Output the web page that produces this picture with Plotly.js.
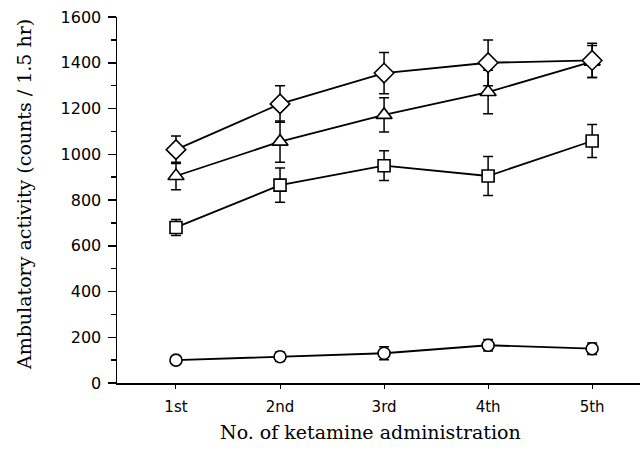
<!DOCTYPE html>
<html>
<head>
<meta charset="utf-8">
<script src="https://cdn.plot.ly/plotly-3.0.1.min.js"></script>
<style>html,body{margin:0;padding:0;background:#fff}#chart{width:642px;height:458px}</style>
</head>
<body>
<div id="chart"></div>
<script>
var xPos = [1, 2, 3, 4, 5];
var xLabels = ['1st', '2nd', '3rd', '4th', '5th'];
var yTicks = [0, 200, 400, 600, 800, 1000, 1200, 1400, 1600];
var xTitle = 'No. of ketamine administration';
var yTitle = 'Ambulatory activity (counts / 1.5 hr)';

var diamondVals = [1020, 1220, 1355, 1400, 1410];
var diamondErr  = [60, 80, 90, 100, 75];
var triangleVals = [905, 1055, 1172, 1272, 1405];
var triangleErr  = [60, 90, 75, 95, 70];
var squareVals = [680, 865, 950, 905, 1058];
var squareErr  = [35, 75, 65, 85, 72];
var circleVals = [100, 115, 130, 165, 150];
var circleErr  = [15, 20, 28, 25, 25];

function series(vals, errs, symbol, size) {
  return {
    x: xPos, y: vals, type: 'scatter', mode: 'lines+markers',
    line: {color: '#000', width: 1.8},
    marker: {symbol: symbol, size: size, color: '#fff', line: {color: '#000', width: 1.6}},
    error_y: {type: 'data', array: errs, visible: true, color: '#000', thickness: 1.5, width: 5},
    showlegend: false, cliponaxis: false
  };
}

var data = [
  series(circleVals, circleErr, 'circle', 12),
  series(squareVals, squareErr, 'square', 12),
  series(triangleVals, triangleErr, 'triangle-up', 14),
  series(diamondVals, diamondErr, 'diamond', 15)
];

var titleFont = {family: 'DejaVu Serif', color: '#000'};

var layout = {
  width: 642, height: 458,
  margin: {l: 117, r: 2, t: 17, b: 75},
  paper_bgcolor: '#fff', plot_bgcolor: '#fff',
  xaxis: {
    range: [0.433, 5.46], tickvals: xPos, ticktext: xLabels,
    showgrid: false, zeroline: false, showline: true, linecolor: '#000', linewidth: 1.5,
    ticks: 'outside', ticklen: 4, tickcolor: '#000', ticklabelstandoff: 5,
    tickfont: {family: 'DejaVu Sans', size: 15, color: '#000'}
  },
  yaxis: {
    range: [0, 1600], tickvals: yTicks,
    showgrid: false, zeroline: false, showline: true, linecolor: '#000', linewidth: 1.5,
    ticks: 'outside', ticklen: 8, tickcolor: '#000', tickwidth: 1.5, ticklabelstandoff: 3,
    minor: {dtick: 100, ticks: 'outside', ticklen: 5, tickcolor: '#000'},
    tickfont: {family: 'DejaVu Sans', size: 16, color: '#000'}
  },
  annotations: [
    {text: xTitle, xref: 'paper', yref: 'paper', x: 0.484, y: -0.134,
     xanchor: 'center', yanchor: 'middle', showarrow: false,
     font: Object.assign({size: 19}, titleFont)},
    {text: yTitle, xref: 'paper', yref: 'paper', x: -0.178, y: 0.516,
     xanchor: 'center', yanchor: 'middle', showarrow: false, textangle: -90,
     font: Object.assign({size: 19}, titleFont)}
  ]
};

Plotly.newPlot('chart', data, layout, {displayModeBar: false, staticPlot: true});
</script>
</body>
</html>
